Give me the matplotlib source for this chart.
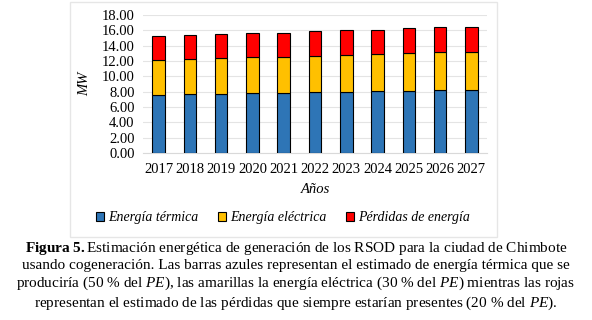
import numpy as np
import matplotlib
matplotlib.use("Agg")
import matplotlib.pyplot as plt
from matplotlib.patches import Rectangle

# ============================================================
# DATA
# ============================================================

years = ["2017", "2018", "2019", "2020", "2021", "2022",
         "2023", "2024", "2025", "2026", "2027"]

termica = [7.60, 7.68, 7.73, 7.80, 7.85, 7.93, 8.00, 8.05, 8.13, 8.20, 8.25]
electrica = [4.56, 4.61, 4.64, 4.68, 4.71, 4.76, 4.80, 4.83, 4.88, 4.92, 4.95]
perdidas = [3.04, 3.07, 3.09, 3.12, 3.14, 3.17, 3.20, 3.22, 3.25, 3.28, 3.30]

y_ticks = [0, 2, 4, 6, 8, 10, 12, 14, 16, 18]

caption = ("$\\bf{Figura\\ 5.}$Estimación energética de generación de los RSOD para la ciudad de Chimbote\n"
           "usando cogeneración. Las barras azules representan el estimado de energía térmica que se\n"
           "produciría (50 % del $\\it{PE}$), las amarillas la energía eléctrica (30 % del $\\it{PE}$) mientras las rojas\n"
           "representan el estimado de las pérdidas que siempre estarían presentes (20 % del $\\it{PE}$).")

# ============================================================
# PLOT
# ============================================================

plt.rcParams['font.family'] = ['Liberation Serif', 'DejaVu Serif']
plt.rcParams['mathtext.fontset'] = 'custom'
plt.rcParams['mathtext.it'] = 'Liberation Serif:italic'
plt.rcParams['mathtext.rm'] = 'Liberation Serif'
plt.rcParams['mathtext.bf'] = 'Liberation Serif:bold'

W, H = 592, 320
fig = plt.figure(figsize=(W / 100, H / 100), dpi=100)

# light frame around the chart area
fig.patches.append(Rectangle((70 / W, 1 - 237 / H), 427 / W, 235 / H,
                             transform=fig.transFigure, fill=False,
                             edgecolor="#e6e6e6", linewidth=1.0))

ax = fig.add_axes([143 / W, 1 - 153 / H, 344 / W, 138 / H])

x = np.arange(len(years))
t = np.array(termica)
e = np.array(electrica)
p = np.array(perdidas)
w = 0.4

ax.bar(x, t, w, color="#2e75b6", edgecolor="black", linewidth=0.8,
       label="Energía térmica", zorder=3)
ax.bar(x, e, w, bottom=t, color="#ffc000", edgecolor="black", linewidth=0.8,
       label="Energía eléctrica", zorder=3)
ax.bar(x, p, w, bottom=t + e, color="#ff0000", edgecolor="black", linewidth=0.8,
       label="Pérdidas de energía", zorder=3)

ax.set_xlim(-0.5, len(years) - 0.5)
ax.set_ylim(0, 18)
ax.set_yticks(y_ticks)
ax.set_yticklabels([f"{v:.2f}" for v in y_ticks], fontsize=10.5)
ax.set_xticks(x)
ax.set_xticklabels(years, fontsize=10.5)
ax.tick_params(axis="y", length=0, pad=6)
ax.tick_params(axis="x", length=0, pad=7)
ax.grid(axis="y", color="#e4e4e4", linewidth=0.8, zorder=0)
for s in ["top", "right", "left"]:
    ax.spines[s].set_visible(False)
ax.spines["bottom"].set_color("#d9d9d9")

ax.set_ylabel("MW", fontsize=10.5, style="italic", labelpad=8)
ax.set_xlabel("Años", fontsize=10.5, style="italic", labelpad=5)

leg = fig.legend(loc="center", bbox_to_anchor=(283 / W, 1 - 218 / H), ncol=3,
                 frameon=False, handlelength=0.6, handleheight=0.6,
                 columnspacing=1.4, handletextpad=0.3,
                 prop={'style': 'italic', 'size': 10})

fig.text(0.5, 1 - 276 / H, caption, ha="center", va="center",
         fontsize=11, linespacing=1.22)

fig.savefig("out.png", dpi=100)
